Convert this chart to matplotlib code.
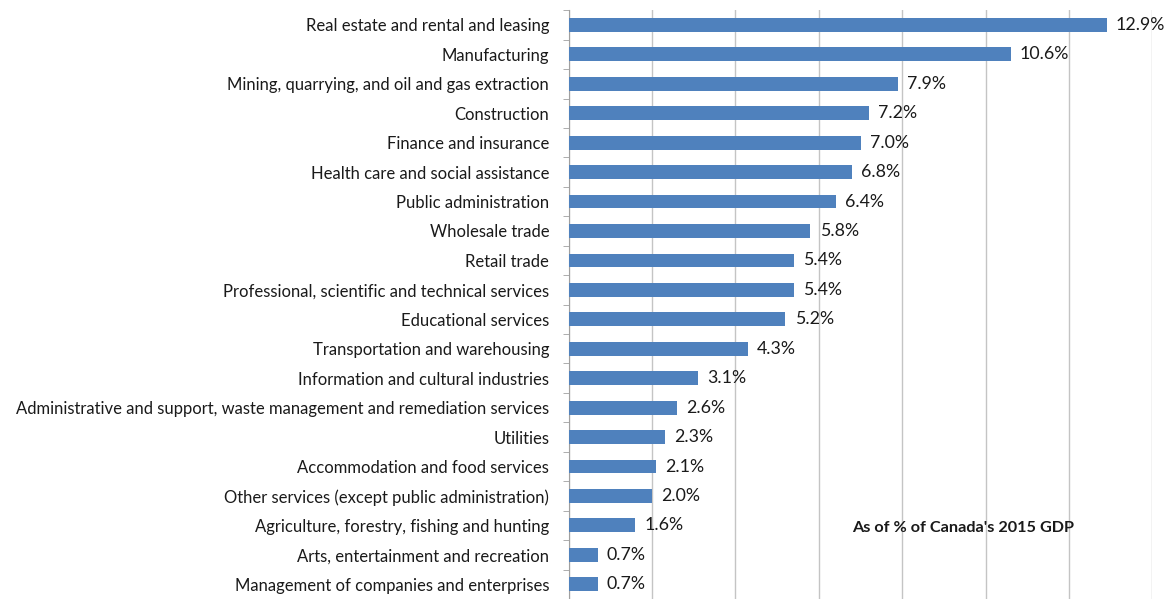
import numpy as np
import matplotlib.pyplot as plt

industries = [
    "Real estate and rental and leasing",
    "Manufacturing",
    "Mining, quarrying, and oil and gas extraction",
    "Construction",
    "Finance and insurance",
    "Health care and social assistance",
    "Public administration",
    "Wholesale trade",
    "Retail trade",
    "Professional, scientific and technical services",
    "Educational services",
    "Transportation and warehousing",
    "Information and cultural industries",
    "Administrative and support, waste management and remediation services",
    "Utilities",
    "Accommodation and food services",
    "Other services (except public administration)",
    "Agriculture, forestry, fishing and hunting",
    "Arts, entertainment and recreation",
    "Management of companies and enterprises",
]
gdp_share = [12.9, 10.6, 7.9, 7.2, 7.0, 6.8, 6.4, 5.8, 5.4, 5.4,
             5.2, 4.3, 3.1, 2.6, 2.3, 2.1, 2.0, 1.6, 0.7, 0.7]
note = "As of % of Canada's 2015 GDP"

plt.rcParams['font.family'] = ['Lato', 'DejaVu Sans']

fig = plt.figure(figsize=(11.7, 5.99), dpi=100)
ax = fig.add_axes([0.486, 0.0, 0.499, 0.983])

y = np.arange(len(industries))
ax.barh(y, gdp_share, height=0.47, color='#4F81BD', zorder=3)

for yi, v in zip(y, gdp_share):
    ax.text(v + 0.22, yi, f"{v:.1f}%", va='center', ha='left',
            fontsize=12.8, color='#1a1a1a', zorder=4)

ax.set_xlim(0, 14)
ax.set_ylim(len(industries) - 0.5, -0.5)
ax.set_xticks(np.arange(0, 15, 2))
ax.xaxis.set_ticklabels([])
ax.tick_params(axis='x', length=0)
ax.grid(axis='x', color='#C4C4C4', linewidth=1, zorder=0)

ax.set_yticks(y)
ax.set_yticklabels(industries, fontsize=12, color='#1a1a1a')
ax.tick_params(axis='y', length=0, pad=14)
ax.set_yticks(np.arange(-0.5, len(industries), 1), minor=True)
ax.tick_params(axis='y', which='minor', length=4, color='#A0A0A0')

for side in ['top', 'right', 'bottom']:
    ax.spines[side].set_visible(False)
ax.spines['left'].set_color('#A0A0A0')

ax.text(9.45, 17.1, note, ha='center', va='center', fontsize=11.7,
        fontweight='bold', color='#1a1a1a', zorder=4)

fig.savefig('out.png', dpi=100)
